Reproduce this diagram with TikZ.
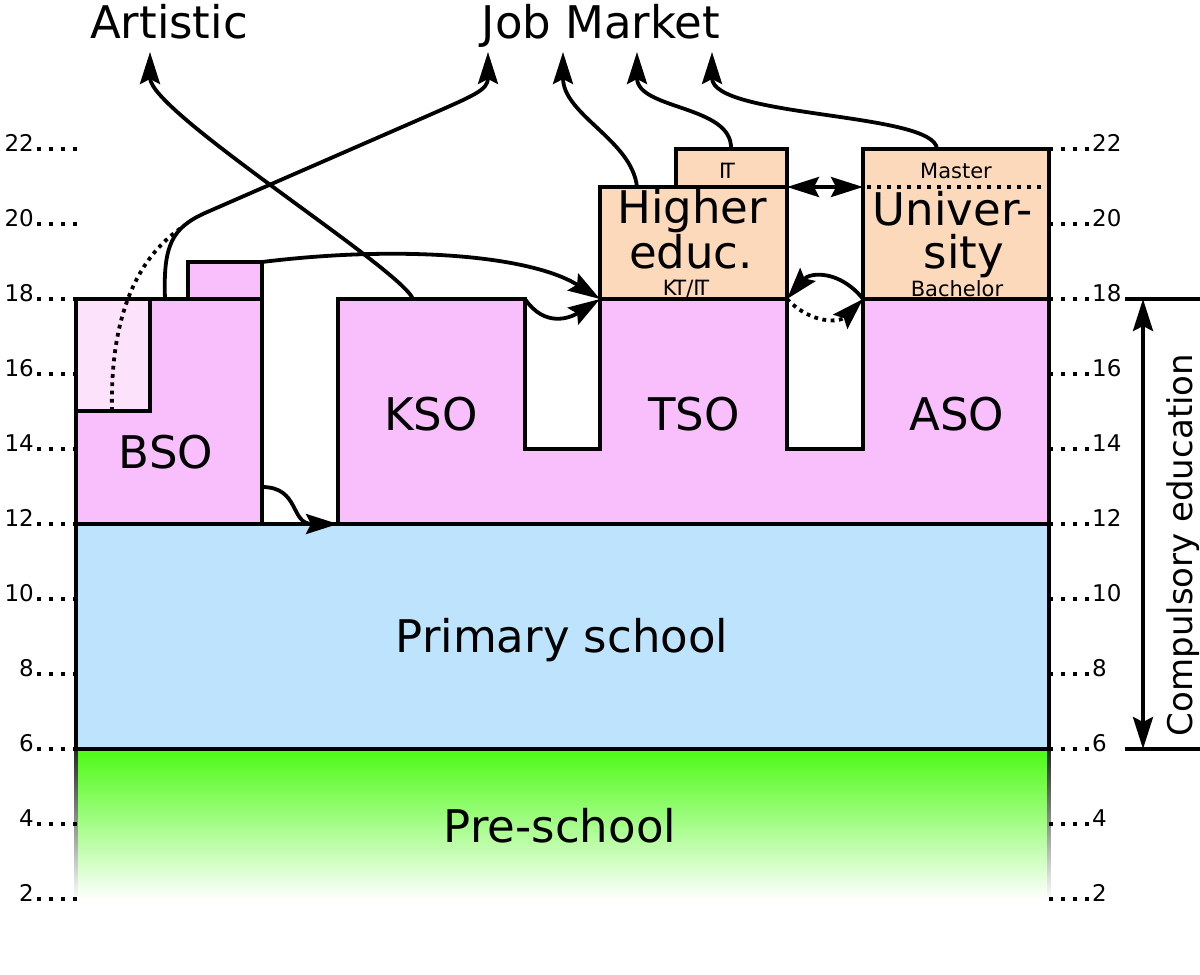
\documentclass[tikz,border=0pt]{standalone}
\usepackage{fontspec}
\setmainfont{DejaVu Sans}
\usetikzlibrary{arrows.meta}
\definecolor{pinkbox}{RGB}{249,190,252}
\definecolor{lightpink}{RGB}{253,226,252}
\definecolor{peach}{RGB}{253,217,187}
\definecolor{skyblue}{RGB}{190,227,253}
\definecolor{grass}{RGB}{76,250,20}
\tikzset{
  box/.style={draw=black, line width=3.5pt, line join=miter},
  headtip/.tip={Stealth[length=32pt,width=20pt,inset=5pt]},
  conn/.style={line width=3.8pt, -headtip},
  conntwo/.style={line width=3.8pt, headtip-headtip},
  dotconn/.style={line width=3.8pt, dash pattern=on 3.8pt off 4.5pt},
  big/.style={font=\fontsize{45}{50}\selectfont, inner sep=0pt},
  small/.style={font=\fontsize{21}{25}\selectfont, inner sep=0pt},
  ticklabel/.style={font=\fontsize{23}{27}\selectfont, inner sep=0pt},
  tickdots/.style={line width=3.7pt, dash pattern=on 3.7pt off 8.3pt},
}
\begin{document}
\begin{tikzpicture}[x=1pt,y=-1pt]
\useasboundingbox (0,0) rectangle (1200,975);

% pre-school with fading edges
\shade[top color=grass, bottom color=white] (76,749) rectangle (1049,900);
\shade[top color=black!85, bottom color=white] (74.25,749) rectangle (77.75,900);
\shade[top color=black!85, bottom color=white] (1047.25,749) rectangle (1050.75,900);

% primary school
\filldraw[box, fill=skyblue] (76,524) rectangle (1049,749);

% secondary schools
\filldraw[box, fill=pinkbox] (338,524) -- (338,299) -- (525,299) -- (525,449) -- (600,449)
  -- (600,299) -- (787,299) -- (787,449) -- (863,449) -- (863,299) -- (1049,299) -- (1049,524) -- cycle;
\filldraw[box, fill=pinkbox] (76,299) rectangle (262,524);
\filldraw[box, fill=lightpink] (76,299) rectangle (150,411);
\filldraw[box, fill=pinkbox] (188,262) rectangle (262,299);

% higher education
\filldraw[box, fill=peach] (600,187) rectangle (787,299);
\filldraw[box, fill=peach] (676,149) rectangle (787,187);
\filldraw[box, fill=peach] (863,149) rectangle (1049,299);
\draw[line width=3.8pt, dash pattern=on 4pt off 6pt] (867,187) -- (1046,187);

% ticks
\foreach \a in {2,4,...,22} {
  \pgfmathsetmacro\yy{299+(18-\a)*37.5}
  \draw[tickdots] (37,\yy) -- (77,\yy);
  \draw[tickdots] (1049,\yy) -- (1091,\yy);
  \node[ticklabel, anchor=base east] (tl\a) at (34,\yy+2) {\a};
  \node[ticklabel, anchor=base west] (tr\a) at (1092,\yy+2) {\a};
}

% compulsory education
\coordinate (cl1a) at (1125,299); \coordinate (cl1b) at (1200,299);
\coordinate (cl2a) at (1125,749); \coordinate (cl2b) at (1200,749);
\coordinate (cmptop) at (1143,299); \coordinate (cmpbot) at (1143,749);
\draw[line width=3.8pt] (cl1a) -- (cl1b);
\draw[line width=3.8pt] (cl2a) -- (cl2b);
\draw[conntwo] (cmptop) -- (cmpbot);
\node[font=\fontsize{34}{40}\selectfont, inner sep=0pt, rotate=90, anchor=base] (comp) at (1192,545) {Compulsory education};

% labels
\node[big, anchor=base] (artistic) at (169,38) {Artistic};
\node[big, anchor=base] (jobmarket) at (601,38) {Job Market};
\node[big, anchor=base] (bso) at (166,468) {BSO};
\node[big, anchor=base] (kso) at (431,430) {KSO};
\node[big, anchor=base] (tso) at (694,430) {TSO};
\node[big, anchor=base] (aso) at (957,430) {ASO};
\node[big, anchor=base] (primary) at (562,652) {Primary school};
\node[big, anchor=base] (pre) at (560,842) {Pre-school};
\node[big, anchor=base] (higher) at (692,223) {Higher};
\node[big, anchor=base] (educ) at (691,268) {educ.};
\node[big, anchor=base] (univer) at (953,225) {Univer-};
\node[big, anchor=base] (sity) at (964,268) {sity};
\node[small, anchor=base] (master) at (956,178) {Master};
\node[small, anchor=base] (bachelor) at (957,296) {Bachelor};
\node[small, anchor=base] (it) at (727,178) {I\kern-0.15em T};
\node[small, anchor=base] (ktit) at (686,295) {K\kern-0.15em T/I\kern-0.15em T};

% connector end points
\coordinate (ksotop) at (413,299);
\coordinate (artin) at (150,52);
\coordinate (bsotop) at (165,299);
\coordinate (jobone) at (488,52);
\coordinate (jobtwo) at (563,52);
\coordinate (jobthree) at (637,52);
\coordinate (jobfour) at (712,52);
\coordinate (hetop) at (637,187);
\coordinate (ittop) at (731,149);
\coordinate (mstop) at (937,149);
\coordinate (bsoabot) at (112,411);
\coordinate (bsojoin) at (181,228);
\coordinate (bsosmall) at (262,262);
\coordinate (hesw) at (600,299);
\coordinate (ksone) at (525,299);
\coordinate (bsoeast) at (262,487);
\coordinate (ksosw) at (338,524);
\coordinate (hene) at (787,187);
\coordinate (unnw) at (863,187);
\coordinate (hese) at (787,299);
\coordinate (unsw) at (863,299);

% connectors
\draw[conn] (ksotop) .. controls (400,268) and (150,112) .. (artin);
\draw[conn] (bsotop) .. controls (163,245) and (172,228) .. (205,213) -- (425,117)
  .. controls (475,95) and (488,90) .. (jobone);
\draw[dotconn] (bsoabot) .. controls (110,320) and (135,260) .. (bsojoin);
\draw[conn] (bsosmall) .. controls (400,245) and (530,255) .. (hesw);
\draw[conn] (ksone) .. controls (545,328) and (570,318) .. (hesw);
\draw[conn] (bsoeast) .. controls (300,487) and (290,524) .. (ksosw);
\draw[conn] (hetop) .. controls (632,140) and (563,115) .. (jobtwo);
\draw[conn] (ittop) .. controls (733,105) and (637,110) .. (jobthree);
\draw[conn] (mstop) .. controls (935,112) and (712,118) .. (jobfour);
\draw[conntwo] (hene) -- (unnw);
\draw[conn] (unsw) .. controls (840,270) and (810,272) .. (hese);
\draw[dotconn, -headtip] (hese) .. controls (812,325) and (840,322) .. (unsw);
\end{tikzpicture}
\end{document}
